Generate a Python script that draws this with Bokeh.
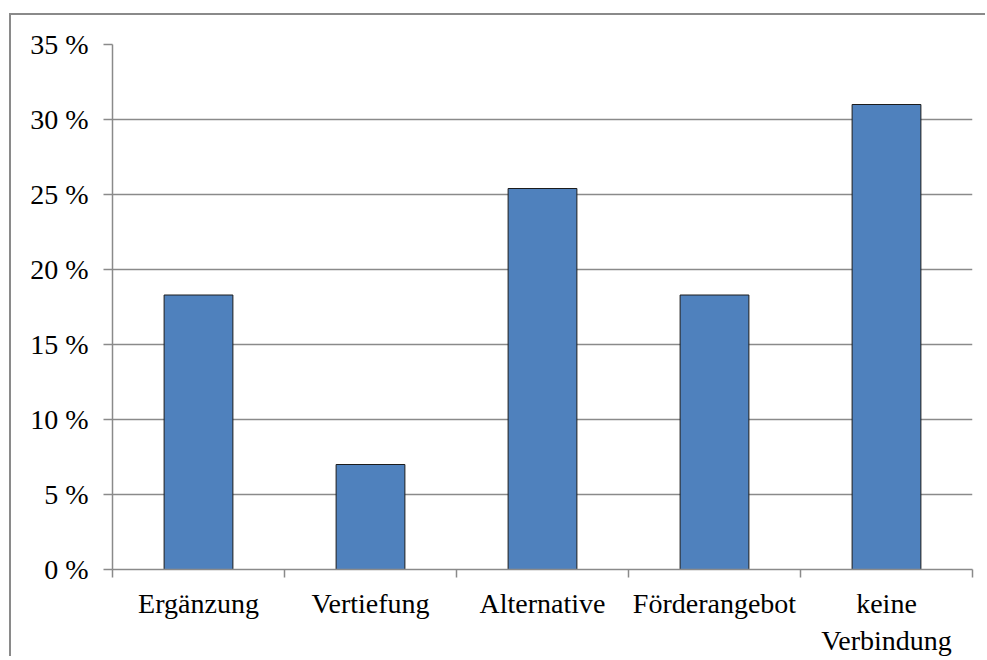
from bokeh.plotting import figure
from bokeh.models import Range1d, FixedTicker, PrintfTickFormatter, ColumnDataSource
from bokeh.embed import file_html
from bokeh.resources import INLINE

categories = ["Ergänzung", "Vertiefung", "Alternative", "Förderangebot", "keine\nVerbindung"]
values = [18.3, 7.0, 25.4, 18.3, 31.0]
y_ticks = [0, 5, 10, 15, 20, 25, 30, 35]

positions = [i + 0.5 for i in range(len(categories))]
src = ColumnDataSource(dict(x=positions, top=values, cat=categories))

FONT = "Liberation Serif"
GRAY = "#8a8a8a"

p = figure(width=976, height=643, x_range=Range1d(0, len(categories)), y_range=Range1d(0, 35),
           output_backend="svg", toolbar_location=None,
           min_border_left=101, min_border_right=15, min_border_top=29, min_border_bottom=89)
p.margin = (13, 0, 0, 9)
p.styles = {"border-top": f"2px solid {GRAY}", "border-left": f"2px solid {GRAY}"}
p.outline_line_color = None
p.background_fill_color = "white"
p.border_fill_color = "white"

p.vbar(x="x", top="top", width=0.4, source=src, fill_color="#4F81BD",
       line_color="#1c1c1c", line_width=1)

# y axis
p.yaxis.ticker = FixedTicker(ticks=y_ticks, minor_ticks=[])
p.yaxis.formatter = PrintfTickFormatter(format="%d %%")
p.yaxis.axis_line_color = GRAY
p.yaxis.axis_line_width = 1.5
p.yaxis.major_tick_line_color = GRAY
p.yaxis.major_tick_line_width = 1.5
p.yaxis.major_tick_out = 9
p.yaxis.major_tick_in = 0
p.yaxis.minor_tick_line_color = None
p.yaxis.major_label_text_font = FONT
p.yaxis.major_label_text_font_size = "28px"
p.yaxis.major_label_text_color = "black"
p.yaxis.major_label_standoff = 15

# x axis: labels at centers, ticks at boundaries
p.xaxis.ticker = FixedTicker(ticks=positions, minor_ticks=list(range(len(categories) + 1)))
p.xaxis.major_label_overrides = {pos: c for pos, c in zip(positions, categories)}
p.xaxis.axis_line_color = GRAY
p.xaxis.axis_line_width = 1.5
p.xaxis.major_tick_line_color = None
p.xaxis.major_tick_out = 0
p.xaxis.major_tick_in = 0
p.xaxis.minor_tick_line_color = GRAY
p.xaxis.minor_tick_line_width = 1.5
p.xaxis.minor_tick_out = 8
p.xaxis.minor_tick_in = 0
p.xaxis.major_label_text_font = FONT
p.xaxis.major_label_text_font_size = "28px"
p.xaxis.major_label_text_color = "black"
p.xaxis.major_label_standoff = 10

p.xgrid.grid_line_color = None
p.ygrid.grid_line_color = GRAY
p.ygrid.grid_line_width = 1.5

open("out.html", "w").write(file_html(p, INLINE))
